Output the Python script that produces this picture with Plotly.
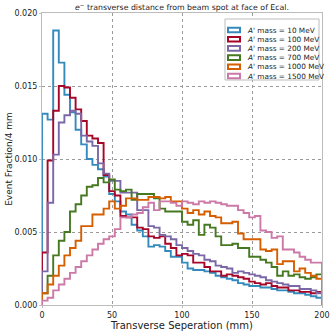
import numpy as np
import plotly.graph_objects as go

# bin edges: 4 mm bins from 0 to 200 mm
bin_width = 4
edges = np.arange(0, 200 + bin_width, bin_width)

labels = ["10", "100", "200", "700", "1000", "1500"]
colors = ["#348ABD", "#A60628", "#7A68A6", "#467821", "#D55E00", "#CC79A7"]

mass_10 = [0.0131, 0.0127, 0.0188, 0.0166, 0.0144, 0.0132, 0.0120, 0.0110, 0.0100, 0.0096,
           0.0093, 0.0088, 0.0076, 0.0071, 0.0064, 0.0062, 0.0055, 0.0051, 0.0047, 0.0040,
           0.0041, 0.0040, 0.0037, 0.0033, 0.0033, 0.0029, 0.0025, 0.0024, 0.0024, 0.0023,
           0.0022, 0.0020, 0.0019, 0.0018, 0.0017, 0.0015, 0.0014, 0.0013, 0.0013, 0.0012,
           0.0012, 0.0011, 0.0010, 0.0010, 0.0009, 0.0008, 0.0008, 0.0007, 0.0006, 0.0005]
mass_100 = [0.0036, 0.0099, 0.0133, 0.0150, 0.0149, 0.0142, 0.0134, 0.0126, 0.0116, 0.0114,
            0.0111, 0.0089, 0.0078, 0.0075, 0.0061, 0.0060, 0.0060, 0.0053, 0.0052, 0.0047,
            0.0046, 0.0047, 0.0042, 0.0039, 0.0034, 0.0035, 0.0034, 0.0029, 0.0029, 0.0026,
            0.0023, 0.0023, 0.0020, 0.0021, 0.0020, 0.0019, 0.0018, 0.0016, 0.0015, 0.0014,
            0.0015, 0.0013, 0.0012, 0.0012, 0.0010, 0.0010, 0.0009, 0.0009, 0.0008, 0.0009]
mass_200 = [0.0023, 0.0070, 0.0103, 0.0125, 0.0130, 0.0133, 0.0131, 0.0116, 0.0112, 0.0109,
            0.0097, 0.0090, 0.0085, 0.0085, 0.0077, 0.0077, 0.0077, 0.0065, 0.0065, 0.0054,
            0.0053, 0.0048, 0.0047, 0.0045, 0.0041, 0.0039, 0.0037, 0.0035, 0.0034, 0.0031,
            0.0030, 0.0027, 0.0026, 0.0025, 0.0022, 0.0023, 0.0022, 0.0021, 0.0020, 0.0019,
            0.0017, 0.0016, 0.0015, 0.0014, 0.0013, 0.0013, 0.0011, 0.0011, 0.0010, 0.0008]
mass_700 = [0.0008, 0.0020, 0.0034, 0.0044, 0.0050, 0.0064, 0.0069, 0.0075, 0.0081, 0.0082,
            0.0087, 0.0084, 0.0086, 0.0079, 0.0078, 0.0079, 0.0072, 0.0076, 0.0076, 0.0076,
            0.0073, 0.0066, 0.0064, 0.0064, 0.0064, 0.0057, 0.0055, 0.0058, 0.0048, 0.0055,
            0.0053, 0.0047, 0.0041, 0.0041, 0.0042, 0.0039, 0.0039, 0.0033, 0.0033, 0.0031,
            0.0029, 0.0026, 0.0020, 0.0023, 0.0020, 0.0021, 0.0019, 0.0018, 0.0019, 0.0021]
mass_1000 = [0.0008, 0.0014, 0.0020, 0.0027, 0.0034, 0.0039, 0.0044, 0.0054, 0.0054, 0.0062,
             0.0062, 0.0066, 0.0071, 0.0066, 0.0068, 0.0073, 0.0073, 0.0072, 0.0072, 0.0074,
             0.0074, 0.0073, 0.0074, 0.0071, 0.0071, 0.0066, 0.0063, 0.0065, 0.0062, 0.0064,
             0.0061, 0.0060, 0.0056, 0.0056, 0.0057, 0.0049, 0.0045, 0.0045, 0.0045, 0.0038,
             0.0037, 0.0038, 0.0028, 0.0030, 0.0030, 0.0023, 0.0025, 0.0022, 0.0020, 0.0018]
mass_1500 = [0.0003, 0.0005, 0.0010, 0.0014, 0.0018, 0.0022, 0.0026, 0.0030, 0.0034, 0.0038,
             0.0042, 0.0045, 0.0047, 0.0052, 0.0060, 0.0060, 0.0062, 0.0063, 0.0067, 0.0070,
             0.0065, 0.0071, 0.0071, 0.0070, 0.0068, 0.0071, 0.0070, 0.0069, 0.0071, 0.0070,
             0.0071, 0.0070, 0.0069, 0.0068, 0.0068, 0.0065, 0.0063, 0.0060, 0.0061, 0.0051,
             0.0050, 0.0046, 0.0047, 0.0038, 0.0038, 0.0036, 0.0033, 0.0031, 0.0029, 0.0029]

series = [mass_10, mass_100, mass_200, mass_700, mass_1000, mass_1500]

W, H = 334, 332
L, R, T, B = 42, 12, 13, 27


def px(x):
    return (x - L) / (W - L - R)


def py(y):
    return (H - B - y) / (H - T - B)


fig = go.Figure()

for vals, c in zip(series, colors):
    # step outline like matplotlib histtype='step'
    xs = [edges[0]] + list(edges[:-1]) + [edges[-1], edges[-1]]
    ys = [0] + list(vals) + [vals[-1], 0]
    fig.add_trace(go.Scatter(x=xs, y=ys, mode="lines", line_shape="hv",
                             line=dict(color=c, width=1.9), showlegend=False,
                             hoverinfo="skip"))

# hand-made legend (plotly's own legend rows are too tall here)
shapes = [dict(type="rect", xref="paper", yref="paper",
               x0=px(225), x1=px(319), y0=py(80), y1=py(19),
               fillcolor="white", line=dict(color="#bcbcbc", width=1), layer="above")]
annotations = []
row_y = [30, 39.2, 48.4, 57.6, 66.8, 76]
for lab, c, yy in zip(labels, colors, row_y):
    shapes.append(dict(type="rect", xref="paper", yref="paper",
                       x0=px(228), x1=px(240), y0=py(yy + 2.3), y1=py(yy - 2.3),
                       fillcolor="white", line=dict(color=c, width=2), layer="above"))
    annotations.append(dict(xref="paper", yref="paper", x=px(245), y=py(yy),
                            xanchor="left", yanchor="middle", showarrow=False,
                            text="<i>A'</i> mass = " + lab + " MeV",
                            font=dict(size=7.3, color="#222")))

axis_style = dict(showgrid=True, gridcolor="#9a9a9a", griddash="dot", gridwidth=1,
                  showline=True, linecolor="#bcbcbc", linewidth=1, mirror=True,
                  zeroline=False, ticks="outside", ticklen=2, tickcolor="#bcbcbc",
                  automargin=False, tickfont=dict(size=8, color="#222"))

fig.update_xaxes(range=[0, 200], tickvals=[0, 50, 100, 150, 200],
                 title=dict(text="Transverse Seperation (mm)", font=dict(size=10, color="#222"),
                            standoff=0), **axis_style)
fig.update_yaxes(range=[0, 0.020], tickvals=[0, 0.005, 0.010, 0.015, 0.020], tickformat=".3f",
                 title=dict(text="Event Fraction/4 mm", font=dict(size=9, color="#222"),
                            standoff=0), **axis_style)

fig.update_layout(
    width=W, height=H,
    margin=dict(l=L, r=R, t=T, b=B),
    paper_bgcolor="white", plot_bgcolor="white",
    font=dict(family="DejaVu Sans", color="#222"),
    title=dict(text="<i>e</i><sup>−</sup> transverse distance from beam spot at face of Ecal.",
               font=dict(size=7.8), x=0.545, xanchor="center", y=0.985, yanchor="top"),
    shapes=shapes,
    annotations=annotations,
    showlegend=False,
)

# drop the browser's default 8px page margin so the figure fills the window
fig.write_html("out.html", config={"displayModeBar": False},
               post_script="document.body.style.margin='0';")
